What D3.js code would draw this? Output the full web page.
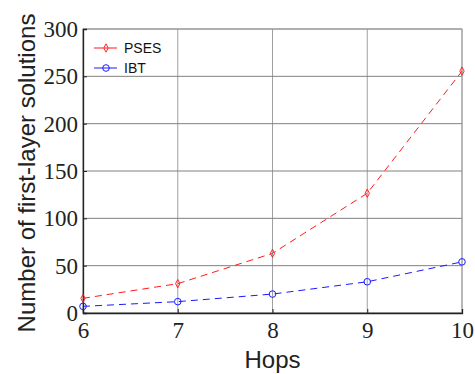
<!DOCTYPE html>
<html>
<head>
<meta charset="utf-8">
<script src="https://cdn.jsdelivr.net/npm/d3@7"></script>
<style>
body { margin: 0; background: #fff; }
svg { display: block; }
</style>
</head>
<body>
<svg id="chart"></svg>
<script>
var hops = [6, 7, 8, 9, 10];
var pses = [15.5, 31, 63, 126.5, 255.5];
var ibt = [7, 12, 20, 33, 54];
var yTicks = [0, 50, 100, 150, 200, 250, 300];

var width = 475, height = 374;
var margin = {left: 83, right: 13, top: 29, bottom: 61};

var svg = d3.select("#chart")
            .attr("width", width)
            .attr("height", height);

var x = d3.scaleLinear().domain([6, 10]).range([margin.left, width - margin.right]);
var y = d3.scaleLinear().domain([0, 300]).range([height - margin.bottom, margin.top]);

// grid
svg.append("g").selectAll("line")
   .data(hops)
   .enter().append("line")
   .attr("x1", d => x(d)).attr("x2", d => x(d))
   .attr("y1", y(0)).attr("y2", y(300))
   .attr("stroke", "#a0a0a0").attr("stroke-width", 1);
svg.append("g").selectAll("line")
   .data(yTicks)
   .enter().append("line")
   .attr("x1", x(6)).attr("x2", x(10))
   .attr("y1", d => y(d)).attr("y2", d => y(d))
   .attr("stroke", "#808080").attr("stroke-width", 1);

// box
svg.append("rect")
   .attr("x", x(6)).attr("y", y(300))
   .attr("width", x(10) - x(6)).attr("height", y(0) - y(300))
   .attr("fill", "none").attr("stroke", "#a0a0a0");

// axes
var xAxis = svg.append("g")
   .attr("transform", "translate(0," + y(0) + ")")
   .call(d3.axisBottom(x).tickValues(hops).tickSize(-4).tickPadding(9).tickFormat(d3.format("d")));
var yAxis = svg.append("g")
   .attr("transform", "translate(" + x(6) + ",0)")
   .call(d3.axisLeft(y).tickValues(yTicks).tickSize(-4).tickPadding(5));
[xAxis, yAxis].forEach(function(a) {
  a.attr("font-family", "Liberation Serif").attr("font-size", 23);
  a.select(".domain").attr("stroke", "#222").attr("stroke-width", 1.3);
  a.selectAll(".tick line").attr("stroke", "#222");
  a.selectAll("text")
   .attr("fill", "#222")
   .attr("style", "font-family: 'Liberation Serif', 'DejaVu Serif', serif; font-size: 23px;");
});
yAxis.selectAll("text").attr("dy", "0.33em");
xAxis.selectAll("text").attr("dy", "0.71em");

// lines
var line = d3.line()
   .x(d => x(d[0]))
   .y(d => y(d[1]));

var series = [
  {name: "PSES", color: "#ff1a1a", values: pses, marker: "diamond"},
  {name: "IBT", color: "#1a1aff", values: ibt, marker: "circle"}
];

function drawMarker(g, type, color, cx, cy) {
  if (type == "diamond") {
    g.append("path")
     .attr("d", d3.symbol().type(d3.symbolDiamond).size(20)())
     .attr("transform", "translate(" + cx + "," + cy + ") scale(0.9,1)")
     .attr("fill", "none").attr("stroke", color).attr("stroke-width", 1);
  } else {
    g.append("circle")
     .attr("cx", cx).attr("cy", cy).attr("r", 3.3)
     .attr("fill", "none").attr("stroke", color).attr("stroke-width", 1);
  }
}

series.forEach(function(s) {
  var pts = hops.map((h, i) => [h, s.values[i]]);
  svg.append("path")
     .attr("d", line(pts))
     .attr("fill", "none")
     .attr("stroke", s.color)
     .attr("stroke-width", 1)
     .attr("stroke-dasharray", "7,5");
  var g = svg.append("g");
  pts.forEach(function(p) { drawMarker(g, s.marker, s.color, x(p[0]), y(p[1])); });
});

// legend
var legend = svg.append("g");
series.forEach(function(s, i) {
  var ly = 48 + i * 20;
  legend.append("line")
        .attr("x1", 94).attr("x2", 117)
        .attr("y1", ly).attr("y2", ly)
        .attr("stroke", s.color).attr("stroke-width", 1);
  drawMarker(legend, s.marker, s.color, 106, ly);
  legend.append("text")
        .attr("x", 124).attr("y", ly + 5)
        .style("font-family", "'Liberation Sans', Arial, sans-serif")
        .style("font-size", "14px")
        .attr("fill", "#111")
        .text(s.name);
});

// axis titles
svg.append("text")
   .attr("x", x(8)).attr("y", 368)
   .attr("text-anchor", "middle")
   .style("font-family", "'Liberation Sans', Arial, sans-serif")
   .style("font-size", "24px")
   .attr("fill", "#222")
   .text("Hops");
svg.append("text")
   .attr("transform", "translate(35,173) rotate(-90)")
   .attr("text-anchor", "middle")
   .style("font-family", "'Liberation Sans', Arial, sans-serif")
   .style("font-size", "24px")
   .attr("fill", "#222")
   .text("Number of first-layer solutions");
</script>
</body>
</html>
